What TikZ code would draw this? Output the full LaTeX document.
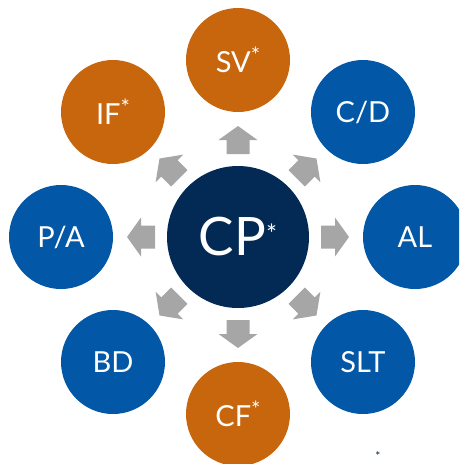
\documentclass[tikz,border=0pt]{standalone}
\usepackage{fontspec}
\setmainfont{Lato}
\definecolor{cporange}{HTML}{C8660E}
\definecolor{cpblue}{HTML}{0257A6}
\definecolor{cpnavy}{HTML}{022A55}
\definecolor{cpgray}{HTML}{A6A6A6}
\newcommand{\hubstar}{\raisebox{12pt}{\fontsize{26}{26}\selectfont *}}
\newcommand{\satstar}{\raisebox{9pt}{\fontsize{22}{22}\selectfont *}}
\tikzset{
  hub/.style={circle, fill=cpnavy, minimum size=142pt, inner sep=0pt, text=white, font=\fontsize{53}{53}\selectfont},
  sat/.style={circle, minimum size=104pt, inner sep=0pt, text=white, font=\fontsize{29}{29}\selectfont},
  satorange/.style={sat, fill=cporange},
  satblue/.style={sat, fill=cpblue},
  blockarrow/.style={fill=cpgray}
}
\begin{document}
\begin{tikzpicture}[x=1pt,y=-1pt]
\useasboundingbox (0,0) rectangle (459,464);
\clip (0,0) rectangle (459,464);
\node[hub] (cp) at (238,237) {CP\hubstar};
\node[satorange] (sv) at (238,60) {SV\satstar};
\node[satblue] (cd) at (363,112) {C/D};
\node[satblue] (al) at (415,237) {AL};
\node[satblue] (slt) at (363,362) {SLT};
\node[satorange] (cf) at (238,414) {CF\satstar};
\node[satblue] (bd) at (113,362) {BD};
\node[satblue] (pa) at (61,237) {P/A};
\node[satorange] (if) at (113,112) {IF\satstar};
\foreach \a in {0,45,...,315}
  \fill[blockarrow, shift={(cp.center)}, rotate=\a]
    (83pt,-11.5pt) -- (97pt,-11.5pt) -- (97pt,-19.5pt) -- (111pt,0pt)
    -- (97pt,19.5pt) -- (97pt,11.5pt) -- (83pt,11.5pt) -- cycle;
\node[text=cpnavy, font=\fontsize{12}{12}\selectfont, inner sep=0pt, anchor=north] (note) at (378,451.5) {*};
\end{tikzpicture}
\end{document}
